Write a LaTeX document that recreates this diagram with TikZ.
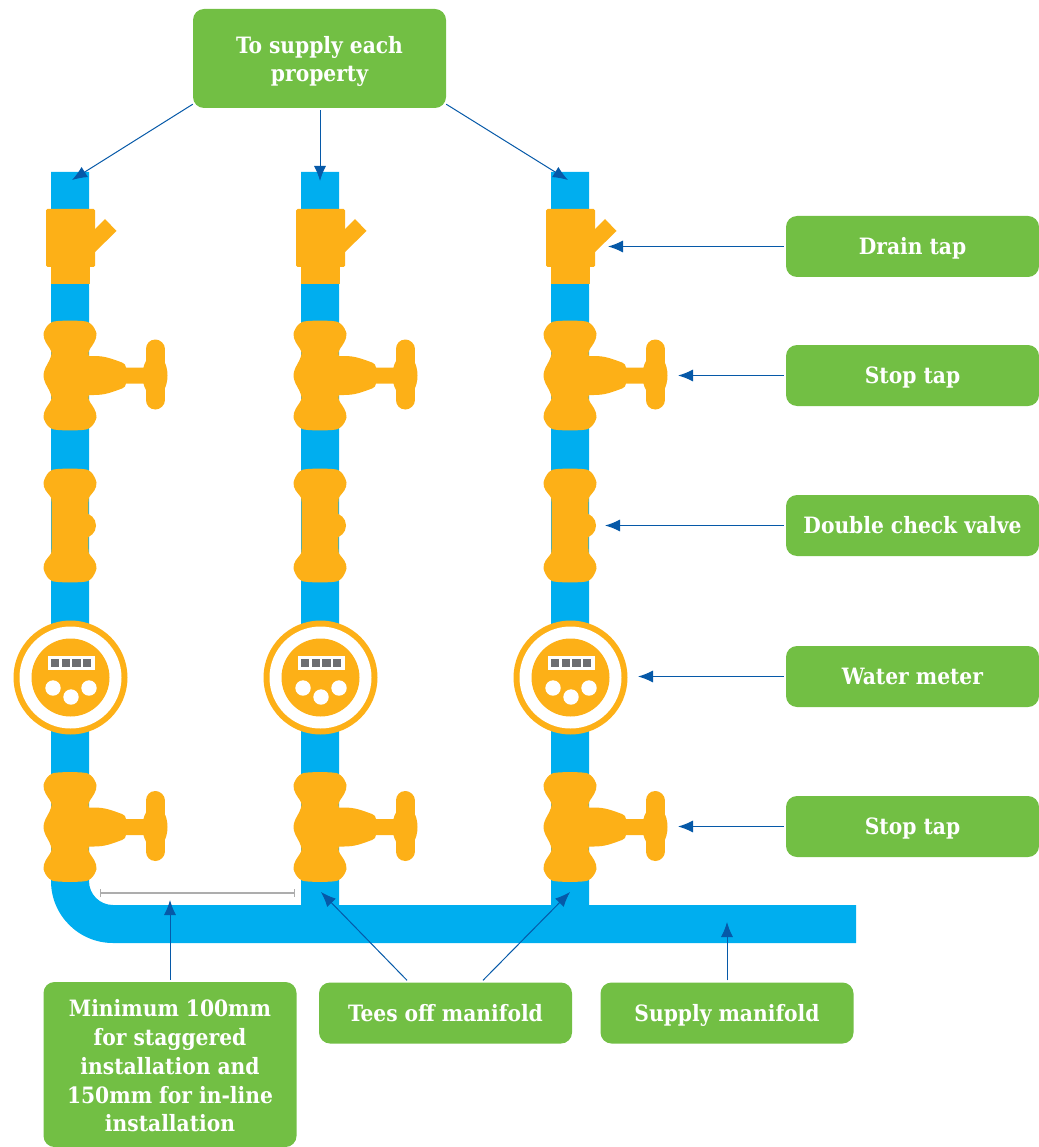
\documentclass[tikz,border=0pt]{standalone}
\usepackage{fontspec}
\setmainfont{DejaVu Serif Condensed}[BoldFont={DejaVu Serif Condensed Bold}]
\usetikzlibrary{arrows.meta}
\definecolor{boxgreen}{HTML}{72BF44}
\definecolor{fitting}{HTML}{FDB017}
\definecolor{pipeblue}{HTML}{00AEEF}
\definecolor{arrowblue}{HTML}{0659A8}
\definecolor{dialgrey}{HTML}{6D6E71}

\begin{document}
\begin{tikzpicture}[
    x=1pt,y=1pt,
    >={Latex[length=15pt,width=12pt]},
    label box/.style={fill=boxgreen,rounded corners=11pt,text=white,align=center,inner sep=0pt,
      font=\fontsize{22.5}{28.7}\selectfont\bfseries,minimum width=253pt,minimum height=61pt},
    one line/.style={label box,text height=16pt,text depth=0pt},
    pointer/.style={->,color=arrowblue,line width=1pt},
    pipe/.style={fill=pipeblue},
    brass/.style={fill=fitting},
    ]
% WATER SERVICE MANIFOLD
\def\stoptap{
  % body
  \fill[brass] plot[smooth cycle,tension=0.6] coordinates {
    (-12,54.5) (12,54.5) (21,51.5) (26.5,42) (24.3,33.3) (20,26.7) (18.5,21.7)
    (20.7,15) (25,6.7) (26.5,0) (25,-6.7) (20.7,-15) (18.5,-21.7) (20,-26.7)
    (24.3,-33.3) (26.5,-42) (21,-51.5) (12,-54.5) (-12,-54.5) (-21,-51.5)
    (-26.5,-42) (-24.3,-33.3) (-20,-26.7) (-18.5,-21.7) (-20.7,-15) (-25,-6.7)
    (-26.5,0) (-25,6.7) (-20.7,15) (-18.5,21.7) (-20,26.7) (-24.3,33.3)
    (-26.5,42) (-21,51.5)};
  % stem and spindle
  \fill[brass] (15,19.5) -- (24,19.5) to[out=0,in=160]
    (52,13) to[out=-20,in=90]
    (56,8) -- (76,8) -- (76,-8) -- (56,-8) to[out=-90,in=20]
    (52,-13) to[out=200,in=0]
    (24,-19.5) -- (15,-19.5) -- cycle;
  % handle
  \draw[color=fitting,line width=19pt,line cap=round] (85,26.5) -- (85,-24.5);
  \fill[brass] (85,0) ellipse (12.5 and 21);
}
\def\draintap{
  \fill[brass,rounded corners=1.5pt] (-24,-26) rectangle (25,32);
  \fill[brass] (-19,-43) rectangle (20,-20);
  \fill[brass] (25,12) -- (35,22) -- (46.5,10) -- (25,-11) -- cycle;
}
\def\checkvalve{
  \fill[brass] plot[smooth cycle,tension=0.6] coordinates {
    (-12,56.5) (12,56.5) (21,53.5) (26.5,43) (24.3,35) (20,29.5) (18.5,24)
    (18.5,0) (18.5,-24) (20,-29.5) (24.3,-35) (26.5,-43) (21,-53.5) (12,-56.5)
    (-12,-56.5) (-21,-53.5) (-26.5,-43) (-24.3,-35) (-20,-29.5) (-18.5,-24)
    (-18.5,0) (-18.5,24) (-20,29.5) (-24.3,35) (-26.5,43) (-21,53.5)};
  \fill[brass] (13.5,0) circle (12.5);
}
\def\watermeter{
  \fill[brass] (0,0) circle (57);
  \fill[white] (0,0) circle (51);
  \fill[brass] (0,0) circle (39);
  \fill[white] (-22.5,21.5) rectangle (24.5,7.5);
  \foreach \sx in {0,1,2,3}
    \fill[dialgrey] (-19.5+10.7*\sx,18.5) rectangle ++(8.3,-8);
  \fill[white] (-17.5,-10.5) circle (7.7);
  \fill[white] (0.5,-19.5) circle (7.7);
  \fill[white] (18.5,-10.5) circle (7.7);
}
    \useasboundingbox (0,0) rectangle (1038,-1147);

    % PIPES
    \fill[pipe] (51,-172) -- (89,-172) -- (89,-881) to[out=-90,in=180]
        (113,-905) -- (301,-905) -- (301,-172) -- (339,-172) -- (339,-905) --
        (551,-905) -- (551,-172) -- (589,-172) -- (589,-905) -- (856,-905) --
        (856,-943) -- (113,-943) arc[start angle=270,end angle=180,radius=62] -- cycle;

    % FITTINGS
    \foreach \px in {70,320,570}{
      \begin{scope}[shift={(\px,-241)}] \draintap \end{scope}
      \begin{scope}[shift={(\px,-375.5)}] \stoptap \end{scope}
      \begin{scope}[shift={(\px,-525.5)}] \checkvalve \end{scope}
      \begin{scope}[shift={(\px+0.5,-677.5)}] \watermeter \end{scope}
      \begin{scope}[shift={(\px,-827)}] \stoptap \end{scope}
    }

    % CLEARANCE
    \coordinate (GapL) at (100,-893);
    \coordinate (GapR) at (295,-893);
    \draw[color=black!32,line width=1.3pt,{Bar[width=8pt]}-{Bar[width=8pt]}] (GapL) -- (GapR);

    % LABELS
    \node[label box,minimum height=99pt] (supply) at (319.5,-58.5) {\rule{0pt}{23pt}To supply each\\property};
    \node[one line] (drain) at (912.5,-246.5) {Drain tap};
    \node[one line] (stopA) at (912.5,-375.5) {Stop tap};
    \node[one line] (check) at (912.5,-525.5) {Double check valve};
    \node[one line] (meter) at (912.5,-676.5) {Water meter};
    \node[one line] (stopB) at (912.5,-826.5) {Stop tap};
    \node[label box,minimum height=165pt] (minimum) at (170,-1064.5)
        {\rule{0pt}{20pt}Minimum 100mm\\for staggered\\installation and\\150mm for in-line\\installation};
    \node[one line] (tees) at (445.5,-1013) {Tees off manifold};
    \node[one line] (manifold) at (727,-1013) {Supply manifold};

    % ARROW ENDS
    \coordinate (TipA) at (72,-180);
    \coordinate (TipB) at (320,-181);
    \coordinate (TipC) at (568,-180);
    \coordinate (TipDrain) at (608,-246.5);
    \coordinate (TipStopA) at (678,-375.5);
    \coordinate (TipCheck) at (605,-525.5);
    \coordinate (TipMeter) at (638,-676.5);
    \coordinate (TipStopB) at (678,-826.5);
    \coordinate (TipGap) at (170,-900);
    \coordinate (TipTeeL) at (321,-892);
    \coordinate (TipTeeR) at (570,-892);
    \coordinate (TipMain) at (727,-922);

    % ARROWS
    \draw[pointer] ([yshift=4]supply.south west) -- (TipA);
    \draw[pointer] ([xshift=0.5,yshift=-2]supply.south) -- (TipB);
    \draw[pointer] ([yshift=4]supply.south east) -- (TipC);
    \draw[pointer] ([xshift=-2]drain.west) -- (TipDrain);
    \draw[pointer] ([xshift=-2]stopA.west) -- (TipStopA);
    \draw[pointer] ([xshift=-2]check.west) -- (TipCheck);
    \draw[pointer] ([xshift=-2]meter.west) -- (TipMeter);
    \draw[pointer] ([xshift=-2]stopB.west) -- (TipStopB);
    \draw[pointer] ([yshift=2]minimum.north) -- (TipGap);
    \draw[pointer] ([xshift=-38.5,yshift=2]tees.north) -- (TipTeeL);
    \draw[pointer] ([xshift=37.5,yshift=2]tees.north) -- (TipTeeR);
    \draw[pointer] ([yshift=2]manifold.north) -- (TipMain);
\end{tikzpicture}
\end{document}
